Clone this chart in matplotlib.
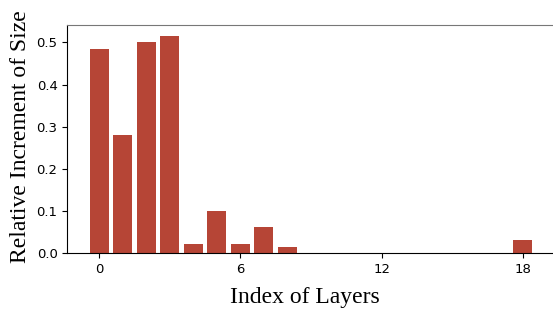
import matplotlib
matplotlib.use("Agg")
import matplotlib.pyplot as plt

layers = list(range(19))
increments = [0.484, 0.280, 0.501, 0.515, 0.022, 0.100, 0.022, 0.062, 0.015,
              0.001, 0.001, 0.001, 0.001, 0.001, 0.001, 0.001, 0.001, 0.001, 0.031]
xticks = [0, 6, 12, 18]
yticks = [0.0, 0.1, 0.2, 0.3, 0.4, 0.5]

fig = plt.figure(figsize=(5.53, 3.10), dpi=100)
ax = fig.add_axes([67.3/553, (310-253.3)/310, (553-67.3)/553, (253.3-25)/310])
ax.bar(layers, increments, width=0.8, color="#b64536")
ax.set_xlim(-1.35, 19.28)
ax.set_ylim(0, 0.541)
ax.set_xticks(xticks)
ax.set_yticks(yticks)
ax.tick_params(labelsize=9.5)
ax.spines["right"].set_visible(False)
ax.spines["top"].set_color("#777777")
ax.set_xlabel("Index of Layers", family="Liberation Serif", fontsize=17, labelpad=8)
ax.set_ylabel("Relative Increment of Size", family="Liberation Serif", fontsize=17, labelpad=4)
ax.xaxis.label.set_x(0.489)
ax.yaxis.label.set_y(0.51)
fig.savefig("out.png", dpi=100)
